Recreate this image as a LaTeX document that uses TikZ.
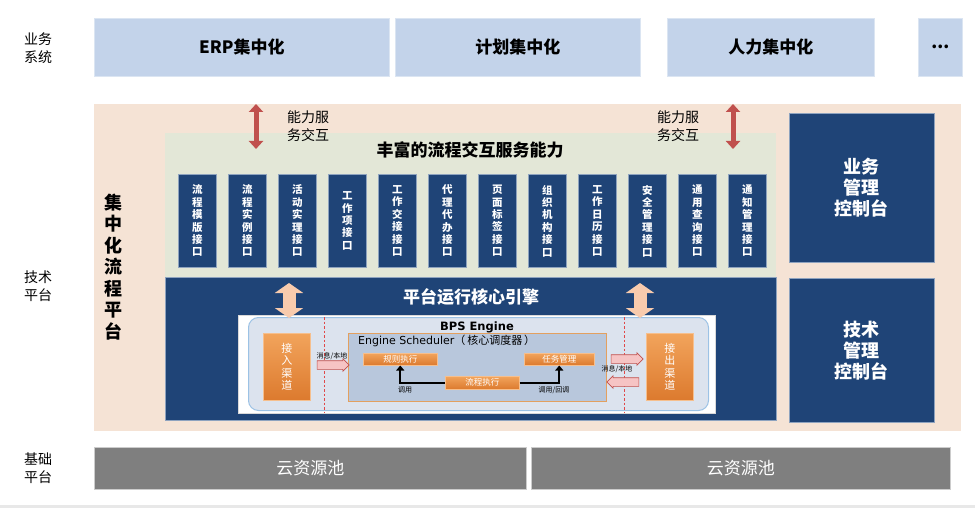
\documentclass[tikz,border=0pt]{standalone}
\usepackage{fontspec}
\setmainfont{Noto Sans CJK SC}
\newfontfamily\verdanalike{DejaVu Sans}
\usetikzlibrary{arrows.meta,shapes.arrows}
\definecolor{topblue}{HTML}{C3D3EA}
\definecolor{peach}{HTML}{F5E3D5}
\definecolor{lgreen}{HTML}{E3E7D7}
\definecolor{navy}{HTML}{1F4477}
\definecolor{ifborder}{HTML}{8EA3BF}
\definecolor{cloudgray}{HTML}{7F7F7F}
\definecolor{redarr}{HTML}{C0504D}
\definecolor{peacharr}{HTML}{F8CBAD}
\definecolor{orangeTop}{HTML}{F2A45C}
\definecolor{orangeBot}{HTML}{DC7A2E}
\definecolor{schedfill}{HTML}{B8C7DC}
\definecolor{schedborder}{HTML}{E3A05F}
\definecolor{panelfill}{HTML}{DCE3EE}
\definecolor{panelborder}{HTML}{9CC2E5}
\definecolor{pinkfill}{HTML}{F6C4C4}
\definecolor{dashred}{HTML}{E04848}
\begin{document}
\begin{tikzpicture}[x=1pt,y=-1pt,
  box/.style={anchor=north west, inner sep=0pt, align=center},
  topbox/.style={box, fill=topblue, draw=topblue!60!white, line width=0.6pt,
    font=\fontsize{17}{20}\selectfont\bfseries},
  iface/.style={box, fill=navy, draw=ifborder, line width=0.8pt,
    minimum width=38pt, minimum height=93pt, text=white,
    font=\fontsize{10.5}{12.4}\selectfont\bfseries},
  ctrlbox/.style={box, fill=navy, draw=ifborder, line width=0.6pt, text=white,
    minimum width=145pt, font=\fontsize{18}{21}\selectfont\bfseries},
  cloud/.style={box, fill=cloudgray, draw=gray!40, line width=0.8pt, text=white,
    minimum height=42pt, font=\fontsize{17}{20}\selectfont},
  sidelabel/.style={align=left, font=\fontsize{14}{18}\selectfont},
  redarrow/.style={draw=redarr, line width=5pt,
    {Triangle[length=8pt,width=14pt]}-{Triangle[length=8pt,width=14pt]}},
  peacharrow/.style={draw=peacharr, line width=13pt,
    {Triangle[length=10pt,width=28pt]}-{Triangle[length=10pt,width=28pt]}},
  obox/.style={box, top color=orangeTop, bottom color=orangeBot, draw=orangeTop!70!white,
    line width=0.5pt, text=white, font=\fontsize{8.5}{9.5}\selectfont},
  channel/.style={obox, minimum width=47pt, minimum height=67pt,
    font=\fontsize{11}{12.5}\selectfont},
  hollow/.style={single arrow, draw=redarr, fill=pinkfill, line width=0.6pt,
    minimum height=32pt, minimum width=12pt, inner sep=4pt,
    single arrow head extend=2pt, single arrow head indent=0pt},
  tiny/.style={font=\fontsize{7}{8}\selectfont, inner sep=0pt},
  blk/.style={draw=black, line width=1.6pt, -{Triangle[length=5pt,width=8pt]}},
  dashline/.style={draw=dashred, line width=1pt, dash pattern=on 2.5pt off 2pt}
]
\useasboundingbox (0,0) rectangle (975,508);
\fill[white] (0,0) rectangle (975,508);
\fill[gray!18] (0,505) rectangle (975,508);

% side labels
\node[sidelabel] (lblbiz) at (38,48) {业务\\系统};
\node[sidelabel] (lbltech) at (38,286) {技术\\平台};
\node[sidelabel] (lblbase) at (38,468) {基础\\平台};

% top row
\node[topbox, minimum width=295pt, minimum height=58pt] (erp) at (94,18) {ERP集中化};
\node[topbox, minimum width=245pt, minimum height=58pt] (plan) at (395,18) {计划集中化};
\node[topbox, minimum width=207pt, minimum height=58pt] (hr) at (667,18) {人力集中化};
\node[topbox, minimum width=44pt, minimum height=58pt] (more) at (918,18) {...};

% peach platform region
\node[box, fill=peach, minimum width=867pt, minimum height=327pt] (platform) at (94,104) {};
\node[font=\fontsize{18}{21.5}\selectfont\bfseries, align=center] (platname) at (113,267)
  {集\\中\\化\\流\\程\\平\\台};

% green service region
\node[box, fill=lgreen, minimum width=611pt, minimum height=145pt] (svc) at (165,133) {};
\node[font=\fontsize{17}{20}\selectfont\bfseries] (svctitle) at (470,150) {丰富的流程交互服务能力};

% red double arrows + labels
\coordinate (ra1t) at (256,104);
\coordinate (ra1b) at (256,149);
\coordinate (ra2t) at (733,104);
\coordinate (ra2b) at (733,149);
\draw[redarrow] (ra1t) -- (ra1b);
\draw[redarrow] (ra2t) -- (ra2b);
\node[sidelabel] (cap1) at (308,126) {能力服\\务交互};
\node[sidelabel] (cap2) at (678,126) {能力服\\务交互};

% interface columns
\foreach \t [count=\i from 0] in {
  {流\\程\\模\\版\\接\\口},{流\\程\\实\\例\\接\\口},{活\\动\\实\\理\\接\\口},
  {工\\作\\项\\接\\口},{工\\作\\交\\接\\接\\口},{代\\理\\代\\办\\接\\口},
  {页\\面\\标\\签\\接\\口},{组\\织\\机\\构\\接\\口},{工\\作\\日\\历\\接\\口},
  {安\\全\\管\\理\\接\\口},{通\\用\\查\\询\\接\\口},{通\\知\\管\\理\\接\\口}}
  \node[iface] (if\i) at (178+50*\i,174) {\t};

% control boxes
\node[ctrlbox, minimum height=149pt] (bizctrl) at (789,113) {业务\\管理\\控制台};
\node[ctrlbox, minimum height=144pt] (techctrl) at (789,278) {技术\\管理\\控制台};

% core engine block
\node[box, fill=navy, draw=ifborder, line width=0.5pt, minimum width=611pt, minimum height=143pt] (core) at (165,277) {};
\node[text=white, font=\fontsize{17}{20}\selectfont\bfseries] (coretitle) at (471,297) {平台运行核心引擎};

% engine picture panel
\node[box, fill=white, draw=gray!30, line width=0.5pt, minimum width=477pt, minimum height=98pt] (panel) at (238,315) {};
\node[box, fill=panelfill, draw=panelborder, line width=1pt, rounded corners=10pt,
  minimum width=460pt, minimum height=93pt] (bps) at (248,317) {};

\coordinate (pa1t) at (289,283);
\coordinate (pa1b) at (289,318);
\coordinate (pa2t) at (640,283);
\coordinate (pa2b) at (640,318);
\draw[peacharrow] (pa1t) -- (pa1b);
\draw[peacharrow] (pa2t) -- (pa2b);

\node[font=\fontsize{11.5}{13}\verdanalike\bfseries] (bpstitle) at (477,327) {BPS Engine};
\node[box, fill=schedfill, draw=schedborder, line width=1pt, minimum width=258pt, minimum height=68pt] (sched) at (348,333) {};
\node[anchor=west, inner sep=0pt, font=\fontsize{11}{12}\selectfont] (schedtitle) at (358,341)
  {{\verdanalike Engine Scheduler}（\,核心调度器\,）};

\node[obox, minimum width=74pt, minimum height=12pt] (rule) at (363,353) {规则执行};
\node[obox, minimum width=70pt, minimum height=12pt] (task) at (524,353) {任务管理};
\node[obox, minimum width=74pt, minimum height=13pt] (flow) at (445,376) {流程执行};
\draw[blk] (flow.west) -| (rule.south);
\draw[blk] (flow.east) -| (task.south);
\node[tiny] (call1) at (405,390) {调用};
\node[tiny] (call2) at (554,390) {调用/回调};

\node[channel] (inch) at (263,333) {接\\入\\渠\\道};
\node[channel] (outch) at (646,333) {接\\出\\渠\\道};

\coordinate (d1t) at (324,317);
\coordinate (d1b) at (324,412);
\coordinate (d2t) at (624,317);
\coordinate (d2b) at (624,412);
\draw[dashline] (d1t) -- (d1b);
\draw[dashline] (d2t) -- (d2b);

\node[hollow] (inarr) at (331,365) {};
\node[tiny] (inmsg) at (332,356) {消息/本地};
\node[hollow] (outarr1) at (625,359) {};
\node[hollow, shape border rotate=180] (outarr2) at (625,382) {};
\node[tiny] (outmsg) at (617,369) {消息/本地};

% base layer
\node[cloud, minimum width=432pt] (cloud1) at (94,447) {云资源池};
\node[cloud, minimum width=419pt] (cloud2) at (531,447) {云资源池};
\end{tikzpicture}
\end{document}
